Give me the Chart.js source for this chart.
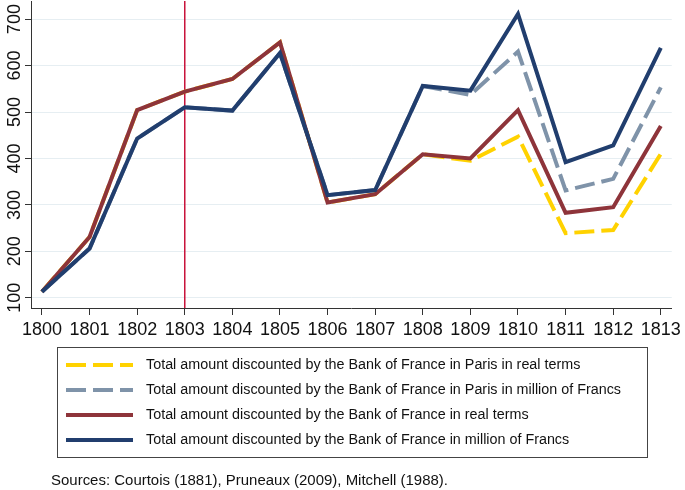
<!DOCTYPE html>
<html>
<head>
<meta charset="utf-8">
<script src="https://cdn.jsdelivr.net/npm/chart.js@4.4.0/dist/chart.umd.min.js"></script>
<style>
    body { margin: 0; background: #ffffff; }
    #wrap { width: 685px; height: 490px; }
</style>
</head>
<body>
<div id="wrap"><canvas id="myChart" width="685" height="490"></canvas></div>
<script>
const years = [1800, 1801, 1802, 1803, 1804, 1805, 1806, 1807, 1808, 1809, 1810, 1811, 1812, 1813];
const yTicks = [100, 200, 300, 400, 500, 600, 700];
const markerYear = 1803;

const parisReal = [113, 231, 504, 544, 571, 650, 305, 323, 409, 395, 447, 239, 246, 410];
const parisMillion = [113, 206, 443, 510, 503, 627, 321, 332, 556, 537, 630, 331, 356, 553];
const totalReal = [113, 231, 504, 544, 571, 650, 305, 323, 409, 400, 504, 283, 295, 470];
const totalMillion = [113, 206, 443, 510, 503, 627, 321, 332, 556, 546, 711, 392, 428, 638];

const labels = [
    'Total amount discounted by the Bank of France in Paris in real terms',
    'Total amount discounted by the Bank of France in Paris in million of Francs',
    'Total amount discounted by the Bank of France in real terms',
    'Total amount discounted by the Bank of France in million of Francs',
];
const sourceNote = 'Sources: Courtois (1881), Pruneaux (2009), Mitchell (1988).';

const FONT = '"Liberation Sans", Arial, sans-serif';

function points(values) {
    return values.map((v, i) => ({ x: years[i], y: v }));
}

const data = {
    datasets: [{
        label: labels[0],
        data: points(parisReal),
        borderColor: '#ffd200',
        borderDash: [20, 7],
        order: 4
    }, {
        label: labels[1],
        data: points(parisMillion),
        borderColor: '#7f93a9',
        borderDash: [20, 7],
        order: 3
    }, {
        label: labels[2],
        data: points(totalReal),
        borderColor: '#8e343a',
        order: 2
    }, {
        label: labels[3],
        data: points(totalMillion),
        borderColor: '#213e6e',
        order: 1
    }]
};

// red vertical line at 1803, behind the series
const markerLine = {
    id: 'markerLine',
    beforeDatasetsDraw(chart) {
        const ctx = chart.ctx;
        const x = chart.scales.x.getPixelForValue(markerYear);
        ctx.save();
        ctx.strokeStyle = '#c8123a';
        ctx.lineWidth = 1.5;
        ctx.beginPath();
        ctx.moveTo(x, chart.chartArea.top);
        ctx.lineTo(x, chart.chartArea.bottom);
        ctx.stroke();
        ctx.restore();
    }
};

// rotated y tick labels + boxed legend + source note
const extras = {
    id: 'extras',
    afterDraw(chart) {
        const ctx = chart.ctx;
        const yScale = chart.scales.y;
        ctx.save();
        ctx.fillStyle = '#111111';
        ctx.font = '18px ' + FONT;
        ctx.textAlign = 'center';
        ctx.textBaseline = 'middle';
        yTicks.forEach(v => {
            ctx.save();
            ctx.translate(15, yScale.getPixelForValue(v));
            ctx.rotate(-Math.PI / 2);
            ctx.fillText(String(v), 0, 0);
            ctx.restore();
        });

        // legend box
        ctx.strokeStyle = '#444444';
        ctx.lineWidth = 1;
        ctx.strokeRect(57.5, 347.5, 590, 110);

        ctx.font = '14px ' + FONT;
        ctx.textAlign = 'left';
        const longest = Math.max(...labels.map(t => ctx.measureText(t).width));
        const sx = 475 / longest;
        chart.data.datasets.forEach((ds, i) => {
            const y = 365 + i * 25;
            ctx.strokeStyle = ds.borderColor;
            ctx.lineWidth = 4;
            ctx.setLineDash(ds.borderDash || []);
            ctx.beginPath();
            ctx.moveTo(66, y);
            ctx.lineTo(133, y);
            ctx.stroke();
            ctx.setLineDash([]);
            ctx.save();
            ctx.translate(146, y);
            ctx.scale(sx, 1);
            ctx.fillStyle = '#111111';
            ctx.fillText(ds.label, 0, 0);
            ctx.restore();
        });

        const sw = ctx.measureText(sourceNote).width;
        ctx.save();
        ctx.translate(51, 481);
        ctx.scale(397 / sw, 1);
        ctx.fillStyle = '#111111';
        ctx.fillText(sourceNote, 0, 0);
        ctx.restore();
        ctx.restore();
    }
};

const config = {
    type: 'line',
    data: data,
    options: {
        responsive: false,
        animation: false,
        layout: {
            padding: { top: 1, right: 10, left: 0, bottom: 147 }
        },
        elements: {
            line: { borderWidth: 4, tension: 0 },
            point: { radius: 0, hoverRadius: 0 }
        },
        plugins: {
            legend: { display: false },
            tooltip: { enabled: false }
        },
        scales: {
            x: {
                type: 'linear',
                min: 1799.77,
                max: 1813.23,
                afterBuildTicks: function (scale) {
                    scale.ticks = years.map(v => ({ value: v }));
                },
                afterFit: function (scale) {
                    scale.height = 35;
                },
                ticks: {
                    color: '#111111',
                    font: { family: FONT, size: 18 },
                    padding: 4,
                    maxRotation: 0,
                    autoSkip: false,
                    callback: v => String(v)
                },
                grid: {
                    drawOnChartArea: false,
                    drawTicks: true,
                    tickLength: 7,
                    tickColor: '#333333'
                },
                border: { color: '#333333', width: 1 }
            },
            y: {
                min: 78,
                max: 739,
                afterBuildTicks: function (scale) {
                    scale.ticks = yTicks.map(v => ({ value: v }));
                },
                afterFit: function (scale) {
                    scale.width = 31;
                },
                ticks: { display: false },
                grid: {
                    color: '#e6eef2',
                    lineWidth: 1,
                    drawTicks: true,
                    tickLength: 6,
                    tickColor: '#333333'
                },
                border: { color: '#333333', width: 1 }
            }
        }
    },
    plugins: [markerLine, extras]
};

const myChart = new Chart(
    document.getElementById('myChart'),
    config
);
</script>
</body>
</html>
